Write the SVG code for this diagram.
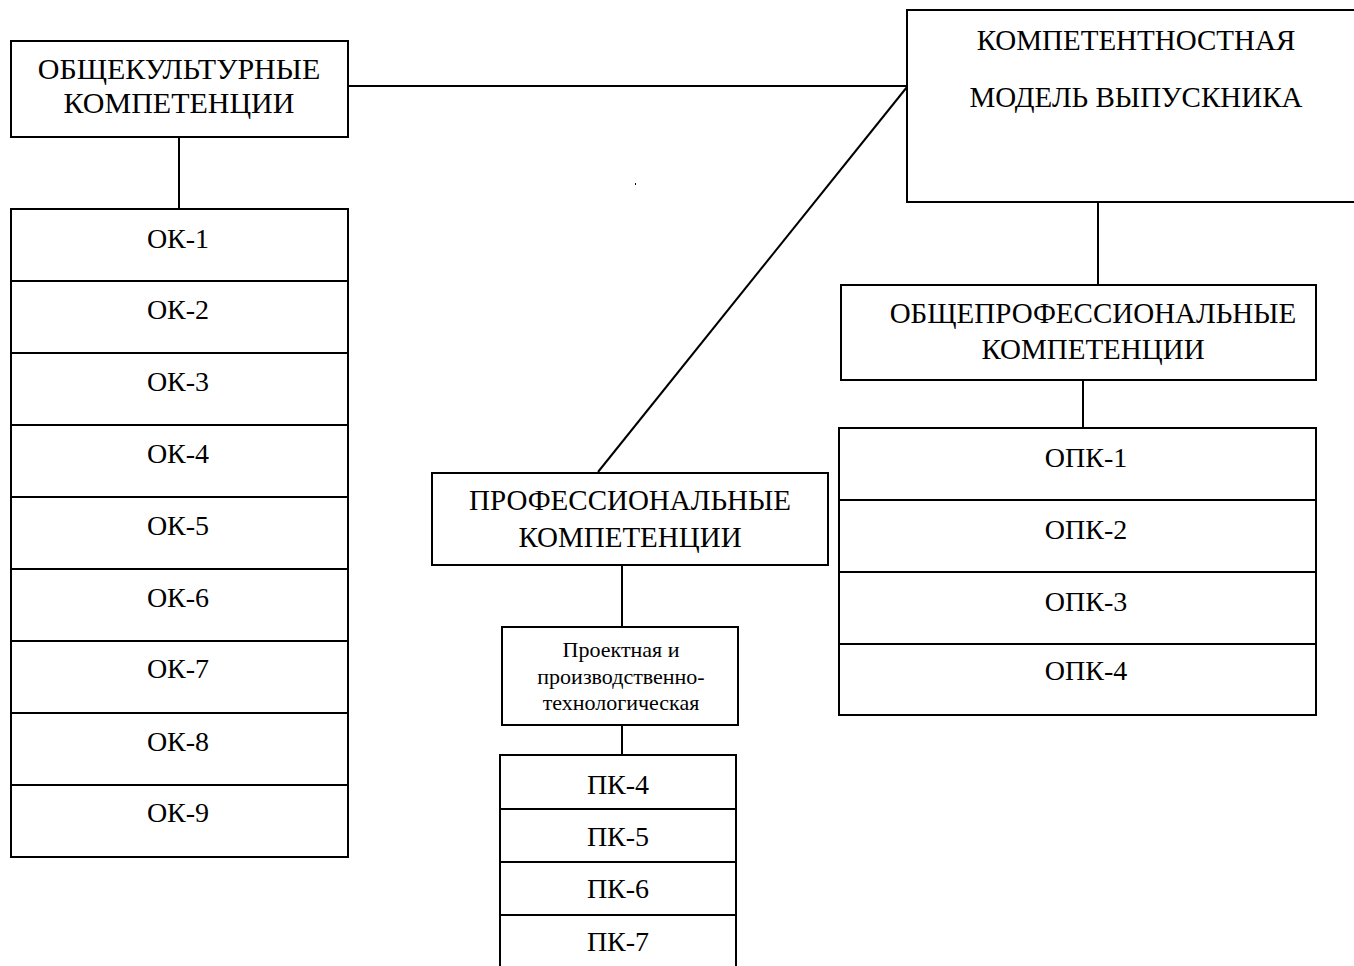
<svg xmlns="http://www.w3.org/2000/svg" width="1354" height="966" viewBox="0 0 1354 966">
<style>
.b{fill:#fff;stroke:#000;stroke-width:2}
.l{stroke:#000;stroke-width:2;fill:none}
.t{font-family:"Liberation Serif","Times New Roman",serif;font-size:28px;fill:#000;text-anchor:middle}
.h{font-family:"Liberation Serif","Times New Roman",serif;font-size:29px;fill:#000;text-anchor:middle}
.s{font-family:"Liberation Serif","Times New Roman",serif;font-size:22px;fill:#000;text-anchor:middle}
</style>
<rect width="1354" height="966" fill="#fff"/>
<g id="connectors">
<line class="l" x1="348" y1="86" x2="907" y2="86"/>
<line class="l" x1="907" y1="87" x2="598" y2="472"/>
<line class="l" x1="179" y1="137" x2="179" y2="209"/>
<line class="l" x1="1098" y1="202" x2="1098" y2="285"/>
<line class="l" x1="1083" y1="380" x2="1083" y2="428"/>
<line class="l" x1="622" y1="565" x2="622" y2="627"/>
<line class="l" x1="622" y1="725" x2="622" y2="755"/>
</g>
<rect x="635" y="183" width="1" height="2" fill="#000"/>
<g id="main">
<rect class="b" x="907" y="10" width="460" height="192"/>
<text class="h" x="1136" y="50">КОМПЕТЕНТНОСТНАЯ</text>
<text class="h" x="1136" y="107">МОДЕЛЬ ВЫПУСКНИКА</text>
</g>
<g id="ok-header">
<rect class="b" x="11" y="41" width="337" height="96"/>
<text class="h" x="179" y="79" style="font-size:30px">ОБЩЕКУЛЬТУРНЫЕ</text>
<text class="h" x="179" y="113" style="font-size:30px">КОМПЕТЕНЦИИ</text>
</g>
<g id="ok-list">
<rect class="b" x="11" y="209" width="337" height="648"/>
<line class="l" x1="11" y1="281" x2="348" y2="281"/>
<line class="l" x1="11" y1="353" x2="348" y2="353"/>
<line class="l" x1="11" y1="425" x2="348" y2="425"/>
<line class="l" x1="11" y1="497" x2="348" y2="497"/>
<line class="l" x1="11" y1="569" x2="348" y2="569"/>
<line class="l" x1="11" y1="641" x2="348" y2="641"/>
<line class="l" x1="11" y1="713" x2="348" y2="713"/>
<line class="l" x1="11" y1="785" x2="348" y2="785"/>
<text class="t" x="178" y="248">ОК-1</text>
<text class="t" x="178" y="319">ОК-2</text>
<text class="t" x="178" y="391">ОК-3</text>
<text class="t" x="178" y="463">ОК-4</text>
<text class="t" x="178" y="535">ОК-5</text>
<text class="t" x="178" y="607">ОК-6</text>
<text class="t" x="178" y="678">ОК-7</text>
<text class="t" x="178" y="751">ОК-8</text>
<text class="t" x="178" y="822">ОК-9</text>
</g>
<g id="opk-header">
<rect class="b" x="841" y="285" width="475" height="95"/>
<text class="h" x="1093" y="323">ОБЩЕПРОФЕССИОНАЛЬНЫЕ</text>
<text class="h" x="1093" y="359">КОМПЕТЕНЦИИ</text>
</g>
<g id="opk-list">
<rect class="b" x="839" y="428" width="477" height="287"/>
<line class="l" x1="839" y1="500" x2="1316" y2="500"/>
<line class="l" x1="839" y1="572" x2="1316" y2="572"/>
<line class="l" x1="839" y1="644" x2="1316" y2="644"/>
<text class="t" x="1086" y="467">ОПК-1</text>
<text class="t" x="1086" y="539">ОПК-2</text>
<text class="t" x="1086" y="611">ОПК-3</text>
<text class="t" x="1086" y="680">ОПК-4</text>
</g>
<g id="pk-header">
<rect class="b" x="432" y="473" width="396" height="92"/>
<text class="h" x="630" y="510">ПРОФЕССИОНАЛЬНЫЕ</text>
<text class="h" x="630" y="547">КОМПЕТЕНЦИИ</text>
</g>
<g id="pk-sub">
<rect class="b" x="502" y="627" width="236" height="98"/>
<text class="s" x="621" y="657">Проектная и</text>
<text class="s" x="621" y="684">производственно-</text>
<text class="s" x="621" y="710">технологическая</text>
</g>
<g id="pk-list">
<rect class="b" x="500" y="755" width="236" height="225"/>
<line class="l" x1="500" y1="809" x2="736" y2="809"/>
<line class="l" x1="500" y1="862" x2="736" y2="862"/>
<line class="l" x1="500" y1="915" x2="736" y2="915"/>
<text class="t" x="618" y="794">ПК-4</text>
<text class="t" x="618" y="846">ПК-5</text>
<text class="t" x="618" y="898">ПК-6</text>
<text class="t" x="618" y="951">ПК-7</text>
</g>
</svg>
